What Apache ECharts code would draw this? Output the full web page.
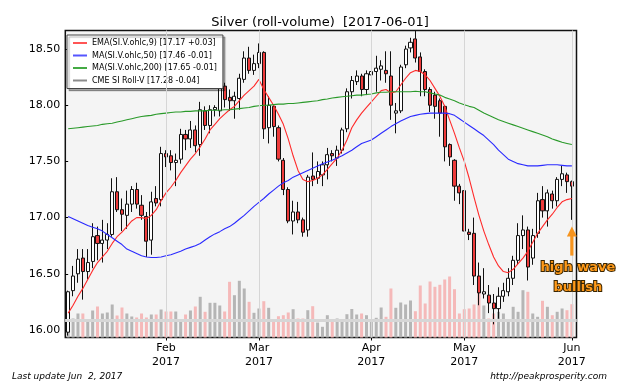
<!DOCTYPE html>
<html><head><meta charset="utf-8">
<script src="https://cdn.jsdelivr.net/npm/echarts@6/dist/echarts.min.js"></script>
<style>html,body{margin:0;padding:0;background:#fff}#c{width:640px;height:384px}</style>
</head><body><div id="c"></div>
<script>
// ---- data ----
const titleText = 'Silver (roll-volume)  [2017-06-01]';
const monthIdx = [20, 39, 62, 81, 103];
const monthLabels = ['Feb\n2017', 'Mar\n2017', 'Apr\n2017', 'May\n2017', 'Jun\n2017'];
const yTicks = [16.0, 16.5, 17.0, 17.5, 18.0, 18.5];

const openP = [15.98,16.35,16.50,16.64,16.52,16.61,16.84,16.77,16.80,16.85,
17.23,17.07,17.02,17.12,17.25,17.11,17.01,16.80,17.17,17.16,
17.57,17.55,17.49,17.52,17.74,17.70,17.78,17.65,17.95,17.82,
17.96,17.95,18.17,18.07,18.04,18.06,18.23,18.42,18.31,18.37,
18.47,17.80,17.99,17.80,17.51,17.25,16.97,17.05,16.98,16.89,
17.37,17.35,17.38,17.47,17.57,17.53,17.60,17.79,18.12,18.21,
18.26,18.14,18.27,18.30,18.32,18.31,18.26,17.93,17.95,18.36,
18.51,18.59,18.43,18.30,18.14,18.09,18.04,17.99,17.65,17.51,
17.28,17.24,16.87,16.86,16.48,16.32,16.31,16.24,16.19,16.30,
16.34,16.46,16.62,16.84,16.89,16.64,16.86,17.16,17.06,17.21,
17.15,17.34,17.38,17.32];
const highP = [16.35,16.57,16.72,16.72,16.72,16.95,16.92,16.98,16.95,17.35,
17.36,17.17,17.24,17.28,17.31,17.20,17.05,17.23,17.28,17.63,
17.60,17.60,17.57,17.79,17.78,17.86,17.82,18.03,17.99,18.00,
18.00,18.22,18.20,18.14,18.12,18.28,18.48,18.52,18.45,18.55,
18.48,18.08,18.00,17.82,17.53,17.27,17.15,17.14,17.00,17.38,
17.58,17.50,17.50,17.62,17.60,17.64,17.80,18.15,18.26,18.31,
18.28,18.31,18.34,18.44,18.40,18.48,18.48,18.02,18.36,18.53,
18.60,18.66,18.47,18.32,18.16,18.12,18.06,18.00,17.66,17.52,
17.30,17.26,16.90,17.00,16.60,16.55,16.40,16.32,16.38,16.42,
16.55,16.66,16.95,17.02,16.92,16.90,17.22,17.28,17.25,17.24,
17.36,17.46,17.40,17.33];
const lowP = [15.95,16.30,16.42,16.27,16.45,16.55,16.62,16.60,16.72,16.83,
17.05,16.88,16.90,17.05,17.08,16.98,16.65,16.67,17.10,17.10,
17.45,17.42,17.28,17.48,17.60,17.62,17.58,17.55,17.78,17.75,
17.90,17.90,17.98,17.95,17.88,17.96,18.20,18.28,18.27,18.33,
17.70,17.66,17.72,17.50,17.20,16.95,16.85,16.95,16.83,16.83,
17.28,17.30,17.28,17.34,17.50,17.46,17.57,17.76,18.06,18.18,
18.08,18.09,18.15,18.12,18.22,18.20,17.87,17.75,17.93,18.33,
18.47,18.38,18.08,18.08,17.94,17.88,17.72,17.50,17.46,17.15,
17.12,16.85,16.80,16.40,16.22,16.28,16.15,16.05,16.10,16.25,
16.30,16.40,16.58,16.72,16.44,16.58,16.82,17.00,16.92,17.08,
17.10,17.28,17.22,16.98];
const closeP = [16.34,16.48,16.63,16.52,16.60,16.83,16.77,16.80,16.85,17.23,
17.07,17.03,17.12,17.25,17.12,17.02,16.79,17.14,17.13,17.57,
17.54,17.49,17.51,17.74,17.70,17.78,17.64,17.96,17.82,17.96,
17.98,18.17,18.05,18.04,18.08,18.24,18.42,18.31,18.37,18.47,
17.79,18.00,17.81,17.52,17.25,16.97,17.05,16.98,16.87,17.36,
17.34,17.41,17.47,17.56,17.55,17.60,17.78,18.12,18.22,18.26,
18.14,18.28,18.30,18.33,18.35,18.28,18.00,17.95,18.34,18.50,
18.56,18.42,18.30,18.14,18.00,17.99,17.93,17.63,17.54,17.28,
17.22,16.88,16.85,16.48,16.33,16.34,16.24,16.19,16.30,16.35,
16.46,16.62,16.84,16.89,16.56,16.84,17.15,17.06,17.22,17.15,
17.34,17.39,17.32,17.28];
// volume, thousands of contracts (relative heights)
const volume = [30.7,19,24,24,18,27,31,24,25,33,
22,30,24,21,20,24,20,23,23,28,
26,26,26,17,23,27,31,40.7,25.7,34.7,
34.7,32,26,55.7,42.3,56.7,49,35.7,24.7,29,
36.3,29.7,17.3,21.3,22.3,25,28.3,19,19,27.3,
31.3,15,10.7,22.3,15.7,19,15.7,23.3,28.5,23,
24,22.3,18,19.7,30,20.7,49,29.7,35,33,
37,26.3,52,34,56,50.7,52.7,58,61,48.3,
24,28.3,29,33,49,32,19,24,25.7,24,
17.3,30.7,25.7,47.3,45.7,24,20.7,36.7,30.7,22.3,
25.7,29,27.3,33.3];
const ema9 = [16.15,16.22,16.30,16.37,16.45,16.53,16.60,16.65,16.70,16.77,
16.83,16.87,16.92,16.97,17.00,17.00,16.99,17.02,17.07,17.15,
17.22,17.27,17.33,17.40,17.46,17.52,17.57,17.63,17.70,17.78,
17.83,17.88,17.92,17.96,17.99,18.04,18.09,18.13,18.17,18.23,
18.14,18.07,18.00,17.92,17.83,17.70,17.55,17.42,17.34,17.32,
17.33,17.35,17.38,17.43,17.48,17.53,17.60,17.69,17.80,17.87,
17.93,17.98,18.03,18.08,18.13,18.14,18.11,18.12,18.18,18.24,
18.29,18.31,18.30,18.27,18.22,18.15,18.08,17.99,17.87,17.75,
17.62,17.50,17.35,17.18,17.02,16.88,16.76,16.65,16.57,16.52,
16.51,16.54,16.59,16.64,16.70,16.78,16.86,16.92,16.98,17.03,
17.09,17.14,17.16,17.17];
const ma50 = [17.01,16.99,16.97,16.95,16.93,16.915,16.90,16.88,16.85,16.82,
16.79,16.76,16.72,16.70,16.68,16.66,16.65,16.645,16.645,16.65,
16.66,16.67,16.685,16.70,16.72,16.735,16.75,16.77,16.80,16.83,
16.855,16.875,16.90,16.92,16.95,16.985,17.02,17.06,17.10,17.135,
17.17,17.21,17.245,17.28,17.31,17.33,17.36,17.38,17.40,17.42,
17.44,17.46,17.48,17.495,17.51,17.53,17.55,17.575,17.60,17.63,
17.66,17.675,17.69,17.72,17.75,17.78,17.81,17.835,17.86,17.88,
17.90,17.91,17.92,17.925,17.93,17.93,17.93,17.93,17.925,17.91,
17.88,17.85,17.82,17.79,17.76,17.73,17.69,17.65,17.60,17.56,
17.52,17.50,17.48,17.47,17.46,17.46,17.46,17.465,17.47,17.47,
17.47,17.465,17.46,17.46];
const ma200 = [17.79,17.795,17.80,17.805,17.81,17.815,17.82,17.83,17.835,17.84,
17.85,17.86,17.87,17.88,17.89,17.90,17.905,17.91,17.92,17.925,
17.93,17.935,17.94,17.94,17.945,17.945,17.95,17.95,17.95,17.955,
17.955,17.955,17.96,17.96,17.965,17.97,17.975,17.98,17.99,17.995,
18.00,18.00,18.005,18.01,18.01,18.015,18.015,18.02,18.025,18.03,
18.035,18.04,18.05,18.055,18.065,18.07,18.075,18.08,18.085,18.09,
18.09,18.095,18.10,18.11,18.115,18.115,18.12,18.12,18.12,18.12,
18.12,18.125,18.12,18.12,18.11,18.10,18.09,18.07,18.055,18.04,
18.02,18.005,17.99,17.98,17.955,17.93,17.91,17.89,17.87,17.855,
17.84,17.825,17.81,17.795,17.78,17.765,17.75,17.735,17.72,17.70,
17.685,17.67,17.66,17.65];
const seriesNames = ['EMA(SI.V.ohlc,9) [17.17 +0.03]', 'MA(SI.V.ohlc,50) [17.46 -0.01]',
  'MA(SI.V.ohlc,200) [17.65 -0.01]', 'CME SI Roll-V [17.28 -0.04]'];
const noteText = 'high wave\nbullish';
const noteIdx = 103, noteTip = 16.92;
const footLeft = 'Last update Jun  2, 2017';
const footRight = 'http://peakprosperity.com';

// ---- chart ----
const FONT = '"DejaVu Sans", sans-serif';
const chart = echarts.init(document.getElementById('c'), null, {renderer: 'canvas'});
const candleData = openP.map((o, i) => [i, o, closeP[i], lowP[i], highP[i]]);
const volData = volume.map((v, i) => ({
  value: [i, v],
  itemStyle: {color: closeP[i] >= openP[i] ? '#b5b5b5' : '#f5b9b9'}
}));
const xy = arr => arr.map((v, i) => [i, v]);
const gridLines = monthIdx.map(v => ({xAxis: v})).concat(yTicks.map(v => ({yAxis: v})));
const lineSeries = (name, data, color) => ({
  name, type: 'line', data: xy(data), showSymbol: false, symbol: 'none', z: 4,
  itemStyle: {color}, lineStyle: {color, width: 1.1}, silent: true
});

chart.setOption({
  animation: false,
  title: {text: titleText, left: 'center', top: 16, padding: 0,
    textStyle: {fontFamily: FONT, fontSize: 13, fontWeight: 'normal', color: '#000'}},
  grid: {left: 65.3, top: 30.5, width: 511.2, height: 307, show: true,
    backgroundColor: '#f4f4f4', borderColor: '#111', borderWidth: 1.5,
    containLabel: false, outerBoundsMode: 'none'},
  legend: {
    orient: 'vertical', left: 67, top: 35, itemWidth: 14, itemHeight: 2, itemGap: 2.5,
    padding: [3, 6, 3, 6], backgroundColor: '#fff', borderColor: '#444', borderWidth: 1,
    shadowColor: 'rgba(0,0,0,0.3)', shadowOffsetX: 2, shadowOffsetY: 2, shadowBlur: 1,
    textStyle: {fontFamily: FONT, fontSize: 8, color: '#000', lineHeight: 10},
    selectedMode: false,
    data: [
      {name: seriesNames[0], icon: 'rect', itemStyle: {color: '#ff5555'}},
      {name: seriesNames[1], icon: 'rect', itemStyle: {color: '#5555ff'}},
      {name: seriesNames[2], icon: 'rect', itemStyle: {color: '#44aa44'}},
      {name: seriesNames[3], icon: 'rect', itemStyle: {color: '#8c8c8c', borderWidth: 0}}
    ]
  },
  xAxis: {
    type: 'value', min: -0.59, max: 103.95,
    axisLine: {show: false}, splitLine: {show: false},
    axisTick: {show: true, customValues: monthIdx, length: 3, lineStyle: {color: '#000'}},
    axisLabel: {customValues: monthIdx, formatter: v => monthLabels[monthIdx.indexOf(Math.round(v))] || '',
      fontFamily: FONT, fontSize: 11, color: '#000', lineHeight: 14, margin: 4}
  },
  yAxis: [{
    type: 'value', min: 15.933, max: 18.665,
    axisLine: {show: false}, splitLine: {show: false},
    axisTick: {show: true, customValues: yTicks, length: 3, lineStyle: {color: '#000'}},
    axisLabel: {customValues: yTicks, formatter: v => v.toFixed(2),
      fontFamily: FONT, fontSize: 11, color: '#000', margin: 5}
  }, {
    type: 'value', min: 0, max: 307, show: false
  }],
  series: [
    {type: 'bar', yAxisIndex: 1, data: volData, barWidth: 3, z: 1, silent: true,
     markLine: {silent: true, symbol: 'none', label: {show: false}, animation: false,
       lineStyle: {color: '#d6d6d6', width: 1, type: 'solid'}, data: gridLines}},
    {name: seriesNames[3], type: 'candlestick', data: candleData, z: 3,
     encode: {x: 0, y: [1, 2, 3, 4]}, barWidth: 3.6, silent: true,
     itemStyle: {color: '#ffffff', color0: '#ee3b3b', borderColor: '#111', borderColor0: '#111', borderWidth: 1}},
    lineSeries(seriesNames[0], ema9, '#ff2a2a'),
    lineSeries(seriesNames[1], ma50, '#2a2aff'),
    lineSeries(seriesNames[2], ma200, '#2a9a2a')
  ]
});

const p = chart.convertToPixel({xAxisIndex: 0, yAxisIndex: 0}, [noteIdx, noteTip]);
chart.setOption({
  graphic: [
    {type: 'polygon', shape: {points: [[p[0], p[1]], [p[0] - 5, p[1] + 10], [p[0] + 5, p[1] + 10]]},
     style: {fill: '#f7941d'}, z: 100},
    {type: 'rect', shape: {x: p[0] - 1.6, y: p[1] + 9, width: 3.2, height: 20},
     style: {fill: '#f7941d'}, z: 100},
    {type: 'text', x: p[0] + 6, y: p[1] + 31, z: 100,
     style: {text: noteText, font: 'bold 13px ' + FONT, fill: '#ff9a1a', stroke: '#3a2500', lineWidth: 2,
       strokeFirst: true, textAlign: 'center', lineHeight: 20}},
    {type: 'text', left: 12, top: 372,
     style: {text: footLeft, font: 'italic 9px ' + FONT, fill: '#000'}},
    {type: 'text', right: 33, top: 372,
     style: {text: footRight, font: 'italic 9px ' + FONT, fill: '#000'}}
  ]
});
</script></body></html>
